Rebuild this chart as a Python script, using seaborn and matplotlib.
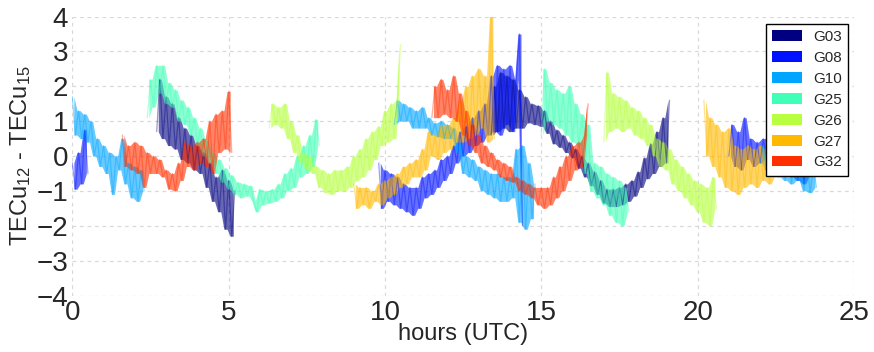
import numpy as np
import pandas as pd
import matplotlib
matplotlib.use("Agg")
import matplotlib.pyplot as plt
from matplotlib.patches import Patch
import seaborn as sns

# ---------------- data (hours UTC, TECu12 - TECu15), sampled every 0.1 h ----------------
satellites = ["G03", "G08", "G10", "G25", "G26", "G27", "G32"]
step_h = 0.1

g03_a_start = 2.7
g03_a = [0.7, 2.2, 0.5, 1.7, 0.3, 1.5, 0.2, 1.1, -0.1, 0.8, -0.2, 0.6, -0.4, 0.3, -0.5, 0.1,
         -0.9, -0.2, -1.3, -0.6, -1.6, -0.4, -2.1, -0.7, -2.3, -1.0]
g03_b_start = 13.4
g03_b = [0.6, 2.0, 0.7, 2.4, 0.8, 2.3, 0.7, 2.2, 0.8, 1.9, 0.8, 1.7, 0.95, 1.5, 0.9, 1.45,
         0.85, 1.3, 0.65, 1.0, 0.35, 0.75, 0.25, 0.6, 0.1, 0.4, -0.05, 0.2, -0.35, 0.0,
         -0.6, -0.2, -0.85, -0.45, -1.1, -0.7, -1.35, -0.95, -1.45, -0.95, -1.45, -0.9,
         -1.4, -0.8, -1.3, -0.7, -1.15, -0.45, -0.9, -0.05, -0.65, 0.35, -0.5, 0.7, -0.3,
         1.1, -0.2, 1.6]

g08_a_start = 0.0
g08_a = [-0.2, -0.95, 0.1, -0.8, 0.75, -0.5]
g08_b_start = 9.8
g08_b = [-0.2, -1.5, -0.4, -1.3, -0.5, -1.4, -0.6, -1.5, -0.8, -1.6, -0.9, -1.7, -0.9, -1.5,
         -0.6, -1.2, -0.5, -1.1, -0.4, -0.9, -0.1, -0.7, 0.0, -0.5, 0.3, -0.2, 0.7, 0.0,
         0.85, 0.1, 1.1, 0.3, 1.3, 0.4, 1.5, 0.6, 2.3, 0.7, 2.6, 0.6, 2.5, 0.9, 2.6, 0.7,
         2.2, 3.5, -2.0]
g08_c_start = 21.0
g08_c = [0.0, 0.9, -0.3, 0.7, -0.4, 1.1, -0.1, 0.5, -0.3, 0.4, -0.2, 0.5, -0.1, 0.6, -0.2,
         0.5, -0.3, 0.5, -0.4, 0.4, -0.6, 0.3, -0.7, 0.2, -0.8, 0.1, -0.6]

g10_a_start = 0.0
g10_a = [1.7, 0.6, 1.3, 0.5, 1.2, 0.4, 1.0, 0.0, 0.5, -0.3, 0.3, -0.5, 0.1, -1.1, 0.0, -0.4,
         0.5, -0.8, -0.2, -1.2, -0.3, -1.3, -0.4, -1.0]
g10_b_start = 10.3
g10_b = [0.9, 1.6, 1.0, 1.5, 1.0, 1.4, 0.8, 1.3, 0.8, 1.4, 0.8, 1.1, 0.6, 0.95, 0.55, 1.0,
         0.5, 0.9, 0.5, 0.8, 0.1, 0.4, -0.5, 0.0, -0.6, -0.1, -0.7, -0.3, -1.0, -0.4, -1.1,
         -0.5, -1.2, -0.5, -1.3, -0.6, -1.3, -0.6, -1.2, 0.2, -1.9, 0.3, -2.1, -0.2, -1.8,
         -0.8]
g10_c_start = 22.0
g10_c = [-0.2, 0.3, -0.4, 0.2, -0.5, 0.1, -0.6, 0.1, -0.7, 0.0, -0.8, -0.1, -0.7, 0.0, -1.0,
         -0.2, -1.05, -0.3, -0.9]

g25_a_start = 2.4
g25_a = [1.1, 2.2, 1.4, 2.6, 1.8, 2.6, 1.5, 2.1, 1.4, 1.9, 1.0, 1.6, 0.9, 1.4, 0.6, 1.1, 0.3,
         0.8, 0.0, 0.45, -0.2, 0.1, -0.5, -0.1, -0.75, -0.35, -0.95, -0.55, -1.1, -0.75,
         -1.2, -0.8, -1.15, -0.85, -1.3, -1.6, -0.95, -1.4, -1.0, -1.35, -0.95, -1.3, -0.8,
         -1.2, -0.5, -1.0, -0.35, -0.9, 0.0, -0.6, 0.3, -0.5, 0.6, -0.3, 1.05, 0.3]
g25_b_start = 15.0
g25_b = [0.6, 2.5, 1.0, 2.1, 0.9, 1.9, 0.8, 1.8, 0.6, 2.0, 0.4, 1.5, 0.3, 1.2, -0.5, 0.9,
         -1.0, -0.2, -1.2, -0.3, -1.4, -0.5, -1.7, -0.6, -1.9, -0.7, -2.0, -0.9, -1.6]

g26_a_start = 6.3
g26_a = [0.8, 1.5, 0.9, 1.4, 0.8, 1.5, 0.5, 1.0, 0.1, 0.6, -0.2, 0.1, -0.4, 0.0, -0.5, -0.3,
         -0.9, -0.4, -1.05, -0.5, -1.1, -0.4, -1.0, -0.4, -1.0, -0.3, -0.9, 0.0, -0.7, 0.2,
         -0.6, 0.5, -0.4, 0.7, -0.1, 0.85, 0.3, 1.3, 0.4, 1.5, 0.5, 1.6, 3.2]
g26_b_start = 17.0
g26_b = [0.4, 2.4, 0.7, 1.8, 0.8, 1.7, 0.7, 1.6, 0.8, 1.4, 0.6, 1.3, 0.5, 1.1, 0.3, 0.9, 0.0,
         0.5, -0.3, 0.4, -0.4, 0.2, -0.8, -0.1, -1.0, -0.3, -1.2, -0.5, -1.4, -0.7, -1.6,
         -0.8, -1.9, -0.9, -2.0, -0.6, -1.5]

g27_a_start = 9.0
g27_a = [-0.8, -1.5, -0.9, -1.4, -0.9, -1.5, -1.0, -1.3, -0.8, -1.4, -0.7, -1.2, -0.6, -1.1,
         -0.5, -0.9, -0.3, -0.8, -0.2, -0.6, -0.1, -0.6, 0.2, -0.4, 0.7, 0.0, 0.6, -0.1, 0.9,
         0.1, 0.9, 0.2, 1.1, 0.4, 1.6, 0.4, 2.0, 0.5, 2.3, 0.6, 2.5, 0.8, 2.3, 0.4, 4.2, 0.5]
g27_b_start = 20.2
g27_b = [1.6, 0.0, 1.1, -0.3, 0.9, -0.6, 0.7, -0.9, 0.8, -1.0, 0.3, -1.1, 0.2, -0.9, 0.3,
         -0.8, 0.2, -0.9, 0.3, -0.7, 0.2, -0.8, 0.3, -0.6, 0.3, -0.5, 0.4, -0.4, 0.3, -0.4,
         0.3]

g32_a_start = 1.6
g32_a = [0.6, -0.3, 0.3, -0.4, 0.4, -0.5, 0.3, -0.9, 0.1, -0.5, 0.0, -0.5, -0.1, -0.6, -0.4,
         -0.95, -0.5, -1.0, -0.2, -0.7, 0.4, -0.3, 0.3, -0.4, 0.4, -0.2, 0.5, -0.3, 1.0,
         -0.5, 1.2, 0.1, 1.3, 0.2, 1.85, 0.1]
g32_b_start = 11.5
g32_b = [1.1, 2.0, 1.1, 2.2, 1.2, 1.9, 1.1, 2.3, 1.0, 1.8, 0.6, 1.3, 0.3, 0.9, 0.1, 0.6, -0.2,
         0.3, -0.3, 0.1, -0.4, -0.1, -0.6, -0.2, -0.7, -0.3, -0.75, -0.6, -1.0, -0.7, -1.1,
         -0.8, -1.2, -0.9, -1.4, -0.9, -1.5, -0.9, -1.4, -0.6, -1.2, -0.3, -1.0, 0.0, -0.7,
         0.3, -0.4, 0.4, -0.3, 0.6, 1.5]

segments = [
    ("G03", g03_a_start, g03_a), ("G03", g03_b_start, g03_b),
    ("G08", g08_a_start, g08_a), ("G08", g08_b_start, g08_b), ("G08", g08_c_start, g08_c),
    ("G10", g10_a_start, g10_a), ("G10", g10_b_start, g10_b), ("G10", g10_c_start, g10_c),
    ("G25", g25_a_start, g25_a), ("G25", g25_b_start, g25_b),
    ("G26", g26_a_start, g26_a), ("G26", g26_b_start, g26_b),
    ("G27", g27_a_start, g27_a), ("G27", g27_b_start, g27_b),
    ("G32", g32_a_start, g32_a), ("G32", g32_b_start, g32_b),
]

x_ticks = [0, 5, 10, 15, 20, 25]
y_ticks = [-4, -3, -2, -1, 0, 1, 2, 3, 4]

# ---------------- style ----------------
sns.set_style("whitegrid", {"grid.linestyle": (0, (3, 3)), "grid.color": "#d9d9d9"})
plt.rcParams["font.family"] = ["Liberation Sans", "DejaVu Sans"]
plt.rcParams["mathtext.fontset"] = "custom"
plt.rcParams["mathtext.rm"] = "Liberation Sans"
plt.rcParams["mathtext.it"] = "Liberation Sans:italic"

colors = {s: plt.cm.jet(i / 7.0) for i, s in enumerate(satellites)}

fig = plt.figure(figsize=(8.74, 3.52), dpi=100)
ax = fig.add_axes([0.0827, 0.1605, 0.9771 - 0.0827, 0.9531 - 0.1605])

rows = []
for k, (sat, start, vals) in enumerate(segments):
    t = start + step_h * np.arange(len(vals))
    for ti, vi in zip(t, vals):
        rows.append((sat, k, ti, vi))
df = pd.DataFrame(rows, columns=["sat", "seg", "hours", "tec"])

for k, (sat, start, vals) in enumerate(segments):
    d = df[df["seg"] == k]
    t = d["hours"].to_numpy()
    v = d["tec"].to_numpy()
    # extent swept by the noisy trace between consecutive samples
    tm = 0.5 * (t[:-1] + t[1:])
    lo = np.minimum(v[:-1], v[1:])
    hi = np.maximum(v[:-1], v[1:])
    ax.fill_between(tm, lo, hi, color=colors[sat], alpha=0.6, lw=0)
    sns.lineplot(data=d, x="hours", y="tec", color=colors[sat], alpha=0.4, lw=0.9,
                 sort=False, estimator=None, ax=ax, legend=False)

ax.set_xlim(0, 25)
ax.set_ylim(-4, 4)
ax.set_xticks(x_ticks)
ax.set_yticks(y_ticks)
ax.tick_params(axis="both", length=0, pad=3, labelsize=20)
for sp in ax.spines.values():
    sp.set_visible(False)
ax.grid(True, linewidth=0.9)
ax.set_axisbelow(True)
ax.set_xlabel("hours (UTC)", fontsize=17)
ax.set_ylabel("TECu$_{12}$ - TECu$_{15}$", fontsize=17)
ax.xaxis.set_label_coords(0.5, -0.10)
ax.yaxis.set_label_coords(-0.050, 0.5)

handles = [Patch(facecolor=colors[s], edgecolor="none", label=s) for s in satellites]
leg = ax.legend(handles=handles, loc="upper right", bbox_to_anchor=(0.9923, 0.973),
                borderaxespad=0, fontsize=11, frameon=True, fancybox=False, framealpha=1,
                handlelength=1.95, handleheight=0.7, labelspacing=0.45, borderpad=0.4,
                handletextpad=0.75)
leg.get_frame().set_edgecolor("black")
leg.get_frame().set_linewidth(1.0)

fig.savefig("out.png", dpi=100)
